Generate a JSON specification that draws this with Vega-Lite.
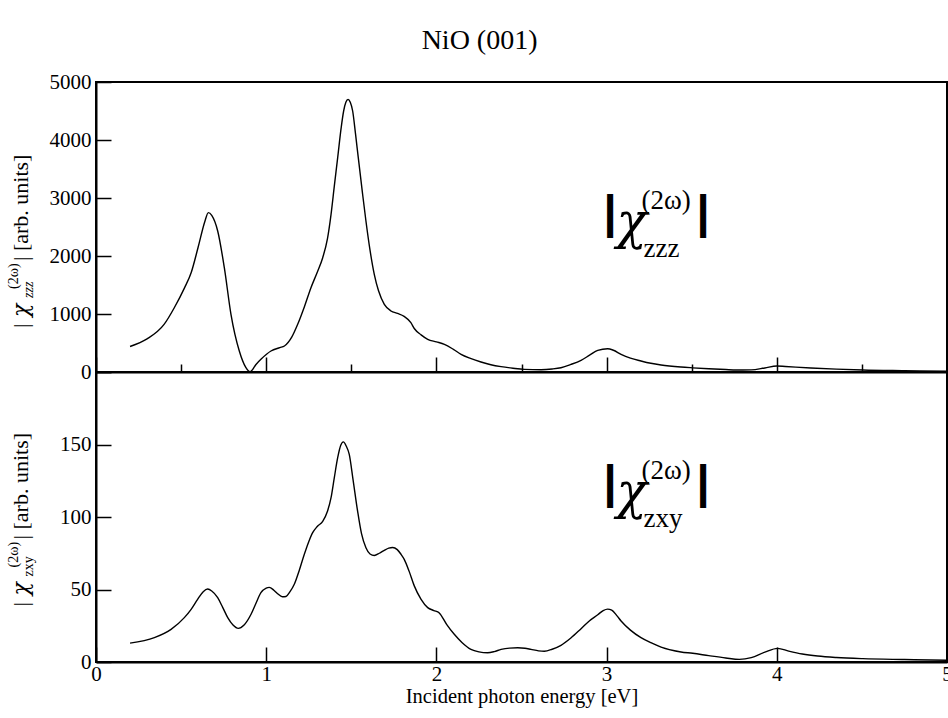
{
  "$schema": "https://vega.github.io/schema/vega-lite/v6.json",
  "padding": {"left": 5, "top": 27, "right": 0, "bottom": 0},
  "background": "white",
  "title": {"text": "NiO (001)", "font": "Liberation Serif", "fontSize": 28, "fontWeight": "normal", "color": "black", "anchor": "middle", "offset": 15},
  "spacing": 0,
  "bounds": "flush",
  "datasets": {
    "zzz": [
      {"E":0.2,"chi":440},{"E":0.3,"chi":570},{"E":0.4,"chi":820},{"E":0.46,"chi":1108},{"E":0.52,"chi":1450},{"E":0.56,"chi":1720},{"E":0.6,"chi":2150},{"E":0.64,"chi":2600},{"E":0.66,"chi":2747},{"E":0.68,"chi":2700},{"E":0.715,"chi":2431},{"E":0.754,"chi":1798},{"E":0.793,"chi":995},{"E":0.842,"chi":362},{"E":0.88,"chi":80},{"E":0.905,"chi":5},{"E":0.94,"chi":130},{"E":0.969,"chi":219},{"E":1.028,"chi":362},{"E":1.08,"chi":420},{"E":1.107,"chi":448},{"E":1.15,"chi":600},{"E":1.185,"chi":822},{"E":1.225,"chi":1130},{"E":1.263,"chi":1453},{"E":1.3,"chi":1720},{"E":1.332,"chi":1971},{"E":1.36,"chi":2300},{"E":1.381,"chi":2719},{"E":1.4,"chi":3200},{"E":1.42,"chi":3695},{"E":1.44,"chi":4200},{"E":1.455,"chi":4500},{"E":1.468,"chi":4650},{"E":1.481,"chi":4701},{"E":1.494,"chi":4650},{"E":1.508,"chi":4500},{"E":1.525,"chi":4100},{"E":1.541,"chi":3695},{"E":1.565,"chi":3100},{"E":1.586,"chi":2603},{"E":1.61,"chi":2100},{"E":1.635,"chi":1684},{"E":1.66,"chi":1400},{"E":1.694,"chi":1167},{"E":1.733,"chi":1052},{"E":1.772,"chi":1010},{"E":1.81,"chi":960},{"E":1.85,"chi":850},{"E":1.87,"chi":750},{"E":1.91,"chi":640},{"E":1.949,"chi":564},{"E":2.0,"chi":520},{"E":2.047,"chi":477},{"E":2.1,"chi":390},{"E":2.145,"chi":305},{"E":2.2,"chi":235},{"E":2.262,"chi":172},{"E":2.32,"chi":125},{"E":2.38,"chi":92},{"E":2.45,"chi":65},{"E":2.517,"chi":46},{"E":2.615,"chi":40},{"E":2.68,"chi":52},{"E":2.732,"chi":74},{"E":2.79,"chi":130},{"E":2.85,"chi":202},{"E":2.9,"chi":290},{"E":2.948,"chi":374},{"E":3.006,"chi":402},{"E":3.04,"chi":375},{"E":3.085,"chi":305},{"E":3.14,"chi":240},{"E":3.202,"chi":190},{"E":3.26,"chi":150},{"E":3.32,"chi":121},{"E":3.437,"chi":86},{"E":3.506,"chi":72},{"E":3.6,"chi":55},{"E":3.7,"chi":42},{"E":3.8,"chi":34},{"E":3.85,"chi":36},{"E":3.93,"chi":70},{"E":4.0,"chi":103},{"E":4.05,"chi":95},{"E":4.2,"chi":70},{"E":4.35,"chi":50},{"E":4.505,"chi":34},{"E":4.75,"chi":22},{"E":5.0,"chi":12}
    ],
    "zxy": [
      {"E":0.2,"chi":13},{"E":0.343,"chi":16.8},{"E":0.441,"chi":22.5},{"E":0.519,"chi":30.6},{"E":0.56,"chi":36.5},{"E":0.597,"chi":43.2},{"E":0.63,"chi":48.5},{"E":0.656,"chi":50.3},{"E":0.68,"chi":49},{"E":0.715,"chi":44.4},{"E":0.745,"chi":37.5},{"E":0.774,"chi":30.6},{"E":0.805,"chi":25.5},{"E":0.836,"chi":23.2},{"E":0.87,"chi":25.5},{"E":0.911,"chi":32.9},{"E":0.94,"chi":40.5},{"E":0.969,"chi":47.8},{"E":1.0,"chi":51},{"E":1.018,"chi":51.5},{"E":1.045,"chi":49.5},{"E":1.067,"chi":47.1},{"E":1.095,"chi":45},{"E":1.116,"chi":45.2},{"E":1.14,"chi":48.5},{"E":1.165,"chi":53.6},{"E":1.195,"chi":63.5},{"E":1.224,"chi":74.3},{"E":1.25,"chi":83},{"E":1.273,"chi":89.2},{"E":1.3,"chi":93.5},{"E":1.332,"chi":97},{"E":1.36,"chi":104},{"E":1.381,"chi":113.3},{"E":1.4,"chi":127},{"E":1.42,"chi":140.9},{"E":1.438,"chi":149.5},{"E":1.453,"chi":151.8},{"E":1.47,"chi":149},{"E":1.488,"chi":143.2},{"E":1.51,"chi":126},{"E":1.537,"chi":104.1},{"E":1.56,"chi":88.5},{"E":1.586,"chi":78.8},{"E":1.61,"chi":74.5},{"E":1.635,"chi":73.5},{"E":1.665,"chi":75},{"E":1.694,"chi":77},{"E":1.72,"chi":78.5},{"E":1.743,"chi":79},{"E":1.77,"chi":77.5},{"E":1.792,"chi":74.3},{"E":1.811,"chi":70.8},{"E":1.84,"chi":62.5},{"E":1.87,"chi":52.5},{"E":1.91,"chi":43.2},{"E":1.949,"chi":37.5},{"E":1.985,"chi":35.5},{"E":2.017,"chi":33.8},{"E":2.06,"chi":26},{"E":2.105,"chi":19.1},{"E":2.15,"chi":13.5},{"E":2.203,"chi":8.7},{"E":2.25,"chi":7},{"E":2.301,"chi":6.4},{"E":2.34,"chi":7.2},{"E":2.38,"chi":8.7},{"E":2.43,"chi":9.6},{"E":2.478,"chi":9.8},{"E":2.52,"chi":9.5},{"E":2.556,"chi":8.7},{"E":2.6,"chi":7.7},{"E":2.634,"chi":7.4},{"E":2.68,"chi":8.8},{"E":2.732,"chi":11.5},{"E":2.79,"chi":16.5},{"E":2.85,"chi":23},{"E":2.9,"chi":28.5},{"E":2.948,"chi":32.6},{"E":2.98,"chi":35.5},{"E":3.006,"chi":36.5},{"E":3.03,"chi":35.8},{"E":3.06,"chi":32},{"E":3.085,"chi":28.3},{"E":3.14,"chi":22},{"E":3.202,"chi":16.8},{"E":3.26,"chi":13.3},{"E":3.32,"chi":10.3},{"E":3.437,"chi":6.9},{"E":3.506,"chi":6.0},{"E":3.6,"chi":4.4},{"E":3.7,"chi":2.8},{"E":3.78,"chi":1.8},{"E":3.85,"chi":3},{"E":3.93,"chi":6.8},{"E":4.005,"chi":9.4},{"E":4.07,"chi":7.5},{"E":4.15,"chi":5.5},{"E":4.24,"chi":4.1},{"E":4.35,"chi":3.1},{"E":4.505,"chi":2.3},{"E":4.75,"chi":1.7},{"E":5.0,"chi":1.2}
    ]
  },
  "vconcat": [
    {
      "width": 851,
      "height": 290,
      "layer": [
        {
          "data": {"name": "zzz"},
          "mark": {"type": "line", "color": "black", "strokeWidth": 1.4, "interpolate": "monotone"},
          "encoding": {
            "x": {"field": "E", "type": "quantitative", "scale": {"domain": [0, 5]},
              "axis": {"values": [0,0.5,1,1.5,2,2.5,3,3.5,4,4.5,5], "labels": false, "title": null,
                "tickSize": {"condition": {"test": "datum.value % 1 === 0", "value": -15}, "value": -8}}},
            "y": {"field": "chi", "type": "quantitative", "scale": {"domain": [0, 5000]},
              "axis": {"values": [0,500,1000,1500,2000,2500,3000,3500,4000,4500,5000], "format": "d", "labelPadding": 20, "title": null,
                "labelExpr": "datum.value % 1000 === 0 ? datum.label : ''",
                "tickSize": {"condition": {"test": "datum.value % 1000 === 0", "value": -15}, "value": -8}}}
          }
        },
        {"data": {"values": [{}]}, "mark": {"type": "text", "text": "|", "font": "Liberation Sans", "fontWeight": "bold", "fontSize": 47, "align": "left", "baseline": "alphabetic", "dx": -3, "dy": 1, "color": "black"}, "encoding": {"x": {"datum": 3.0}, "y": {"datum": 2500}}},
        {"data": {"values": [{}]}, "mark": {"type": "text", "text": "χ", "font": "DejaVu Serif", "fontStyle": "italic", "fontSize": 50, "align": "left", "baseline": "alphabetic", "dx": 10, "dy": 11, "color": "black"}, "encoding": {"x": {"datum": 3.0}, "y": {"datum": 2500}}},
        {"data": {"values": [{}]}, "mark": {"type": "text", "text": "(2ω)", "font": "Liberation Serif", "fontSize": 27, "align": "left", "baseline": "alphabetic", "dx": 35, "dy": -18, "color": "black"}, "encoding": {"x": {"datum": 3.0}, "y": {"datum": 2500}}},
        {"data": {"values": [{}]}, "mark": {"type": "text", "text": "zzz", "font": "Liberation Serif", "fontSize": 27, "align": "left", "baseline": "alphabetic", "dx": 37, "dy": 30, "color": "black"}, "encoding": {"x": {"datum": 3.0}, "y": {"datum": 2500}}},
        {"data": {"values": [{}]}, "mark": {"type": "text", "text": "|", "font": "Liberation Sans", "fontWeight": "bold", "fontSize": 47, "align": "left", "baseline": "alphabetic", "dx": 90, "dy": 1, "color": "black"}, "encoding": {"x": {"datum": 3.0}, "y": {"datum": 2500}}},
        {"data": {"values": [{}]}, "mark": {"type": "text", "text": "|", "font": "Liberation Serif", "fontSize": 22, "angle": 270, "align": "left", "baseline": "alphabetic", "dx": -101, "dy": 0, "color": "black"}, "encoding": {"x": {"datum": -0.4}, "y": {"datum": 2500}}},
        {"data": {"values": [{}]}, "mark": {"type": "text", "text": "χ", "font": "DejaVu Serif", "fontStyle": "italic", "fontSize": 22, "angle": 270, "align": "left", "baseline": "alphabetic", "dx": -90, "dy": 0, "color": "black"}, "encoding": {"x": {"datum": -0.4}, "y": {"datum": 2500}}},
        {"data": {"values": [{}]}, "mark": {"type": "text", "text": "(2ω)", "font": "Liberation Serif", "fontSize": 14, "angle": 270, "align": "left", "baseline": "alphabetic", "dx": -62, "dy": -10, "color": "black"}, "encoding": {"x": {"datum": -0.4}, "y": {"datum": 2500}}},
        {"data": {"values": [{}]}, "mark": {"type": "text", "text": "zzz", "font": "Liberation Serif", "fontStyle": "italic", "fontSize": 14, "angle": 270, "align": "left", "baseline": "alphabetic", "dx": -71, "dy": 5, "color": "black"}, "encoding": {"x": {"datum": -0.4}, "y": {"datum": 2500}}},
        {"data": {"values": [{}]}, "mark": {"type": "text", "text": "| [arb. units]", "font": "Liberation Serif", "fontSize": 22, "angle": 270, "align": "left", "baseline": "alphabetic", "dx": -34, "dy": 0, "color": "black"}, "encoding": {"x": {"datum": -0.4}, "y": {"datum": 2500}}}
      ]
    },
    {
      "width": 851,
      "height": 290,
      "layer": [
        {
          "data": {"name": "zxy"},
          "mark": {"type": "line", "color": "black", "strokeWidth": 1.4, "interpolate": "monotone"},
          "encoding": {
            "x": {"field": "E", "type": "quantitative", "scale": {"domain": [0, 5]},
              "axis": {"values": [0,0.5,1,1.5,2,2.5,3,3.5,4,4.5,5], "format": "d", "labelPadding": 16.5,
                "labelExpr": "datum.value % 1 === 0 ? datum.label : ''",
                "title": "Incident photon energy [eV]", "titlePadding": 2,
                "tickSize": {"condition": {"test": "datum.value % 1 === 0", "value": -15}, "value": -8}}},
            "y": {"field": "chi", "type": "quantitative", "scale": {"domain": [0, 200]},
              "axis": {"values": [0,25,50,75,100,125,150,175,200], "format": "d", "labelPadding": 20, "title": null,
                "labelExpr": "datum.value % 50 === 0 && datum.value < 200 ? datum.label : ''",
                "tickSize": {"condition": {"test": "datum.value % 50 === 0", "value": -15}, "value": -8}}}
          }
        },
        {"data": {"values": [{}]}, "mark": {"type": "text", "text": "|", "font": "Liberation Sans", "fontWeight": "bold", "fontSize": 47, "align": "left", "baseline": "alphabetic", "dx": -3, "dy": 1, "color": "black"}, "encoding": {"x": {"datum": 3.0}, "y": {"datum": 114}}},
        {"data": {"values": [{}]}, "mark": {"type": "text", "text": "χ", "font": "DejaVu Serif", "fontStyle": "italic", "fontSize": 50, "align": "left", "baseline": "alphabetic", "dx": 10, "dy": 11, "color": "black"}, "encoding": {"x": {"datum": 3.0}, "y": {"datum": 114}}},
        {"data": {"values": [{}]}, "mark": {"type": "text", "text": "(2ω)", "font": "Liberation Serif", "fontSize": 27, "align": "left", "baseline": "alphabetic", "dx": 35, "dy": -18, "color": "black"}, "encoding": {"x": {"datum": 3.0}, "y": {"datum": 114}}},
        {"data": {"values": [{}]}, "mark": {"type": "text", "text": "zxy", "font": "Liberation Serif", "fontSize": 27, "align": "left", "baseline": "alphabetic", "dx": 37, "dy": 30, "color": "black"}, "encoding": {"x": {"datum": 3.0}, "y": {"datum": 114}}},
        {"data": {"values": [{}]}, "mark": {"type": "text", "text": "|", "font": "Liberation Sans", "fontWeight": "bold", "fontSize": 47, "align": "left", "baseline": "alphabetic", "dx": 90, "dy": 1, "color": "black"}, "encoding": {"x": {"datum": 3.0}, "y": {"datum": 114}}},
        {"data": {"values": [{}]}, "mark": {"type": "text", "text": "|", "font": "Liberation Serif", "fontSize": 22, "angle": 270, "align": "left", "baseline": "alphabetic", "dx": -101, "dy": 0, "color": "black"}, "encoding": {"x": {"datum": -0.4}, "y": {"datum": 108}}},
        {"data": {"values": [{}]}, "mark": {"type": "text", "text": "χ", "font": "DejaVu Serif", "fontStyle": "italic", "fontSize": 22, "angle": 270, "align": "left", "baseline": "alphabetic", "dx": -90, "dy": 0, "color": "black"}, "encoding": {"x": {"datum": -0.4}, "y": {"datum": 108}}},
        {"data": {"values": [{}]}, "mark": {"type": "text", "text": "(2ω)", "font": "Liberation Serif", "fontSize": 14, "angle": 270, "align": "left", "baseline": "alphabetic", "dx": -62, "dy": -10, "color": "black"}, "encoding": {"x": {"datum": -0.4}, "y": {"datum": 108}}},
        {"data": {"values": [{}]}, "mark": {"type": "text", "text": "zxy", "font": "Liberation Serif", "fontSize": 14, "angle": 270, "align": "left", "baseline": "alphabetic", "dx": -71, "dy": 5, "color": "black"}, "encoding": {"x": {"datum": -0.4}, "y": {"datum": 108}}},
        {"data": {"values": [{}]}, "mark": {"type": "text", "text": "| [arb. units]", "font": "Liberation Serif", "fontSize": 22, "angle": 270, "align": "left", "baseline": "alphabetic", "dx": -34, "dy": 0, "color": "black"}, "encoding": {"x": {"datum": -0.4}, "y": {"datum": 108}}}
      ]
    }
  ],
  "config": {
    "view": {"stroke": "black", "strokeWidth": 2},
    "axis": {"labelFont": "Liberation Serif", "labelFontSize": 21, "labelColor": "black", "titleFont": "Liberation Serif", "titleFontSize": 20.5, "titleFontWeight": "normal", "titleColor": "black", "domainColor": "black", "domainWidth": 2, "tickColor": "black", "tickWidth": 1.5, "grid": false, "labelFlush": false, "labelOverlap": false, "labelBound": false}
  }
}
